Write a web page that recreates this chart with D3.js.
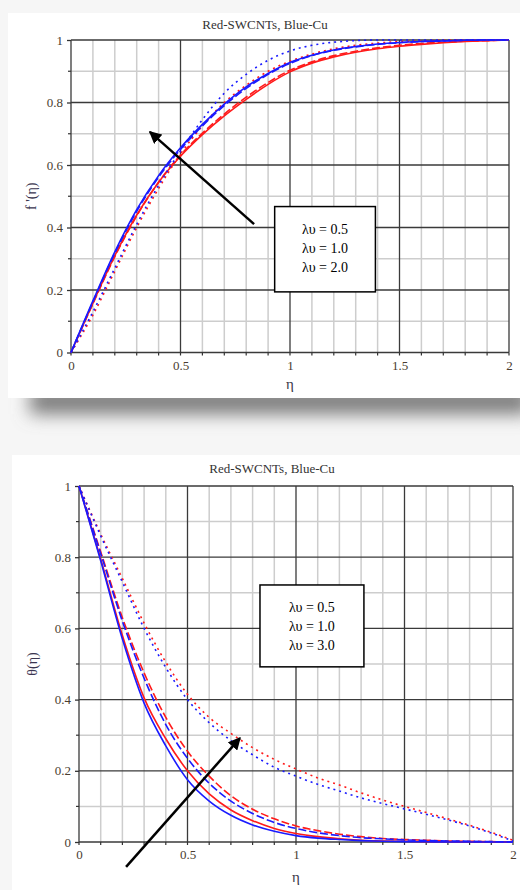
<!DOCTYPE html>
<html>
<head>
<meta charset="utf-8">
<script src="https://cdnjs.cloudflare.com/ajax/libs/d3/7.8.5/d3.min.js"></script>
<style>
  html, body { margin: 0; padding: 0; background: #f6f6f6; }
  svg { display: block; }
</style>
</head>
<body>
<svg id="chart" width="520" height="890"></svg>
<script>
// ---------- DATA ----------
const eta = [0, 0.1, 0.2, 0.3, 0.4, 0.5, 0.6, 0.7, 0.8, 0.9, 1.0, 1.1, 1.2, 1.3, 1.4, 1.5, 1.6, 1.7, 1.8, 1.9, 2.0];

// Top chart: f'(eta)
const fBlueSolid = [0, 0.165, 0.322, 0.457, 0.566, 0.655, 0.73, 0.795, 0.85, 0.893, 0.928, 0.951, 0.968, 0.979, 0.987, 0.992, 0.995, 0.997, 0.999, 1, 1];
const fBlueDash  = [0, 0.162, 0.318, 0.452, 0.561, 0.65, 0.725, 0.79, 0.845, 0.89, 0.925, 0.95, 0.967, 0.978, 0.986, 0.991, 0.995, 0.997, 0.999, 1, 1];
const fBlueDot   = [0, 0.13, 0.27, 0.41, 0.535, 0.645, 0.745, 0.83, 0.89, 0.935, 0.965, 0.983, 0.993, 0.998, 1, 1, 1, 1, 1, 1, 1];
const fRedSolid  = [0, 0.158, 0.31, 0.44, 0.545, 0.628, 0.697, 0.757, 0.81, 0.858, 0.898, 0.926, 0.946, 0.961, 0.972, 0.98, 0.986, 0.991, 0.995, 0.998, 1];
const fRedDash   = [0, 0.156, 0.307, 0.437, 0.545, 0.632, 0.702, 0.763, 0.817, 0.864, 0.903, 0.93, 0.95, 0.964, 0.975, 0.983, 0.989, 0.993, 0.996, 0.998, 1];
const fRedDot    = [0, 0.12, 0.26, 0.40, 0.525, 0.635, 0.725, 0.80, 0.855, 0.9, 0.932, 0.955, 0.972, 0.983, 0.99, 0.995, 0.997, 0.999, 1, 1, 1];

// Bottom chart: theta(eta)
const tBlueSolid = [1, 0.79, 0.57, 0.39, 0.27, 0.175, 0.115, 0.075, 0.048, 0.03, 0.018, 0.011, 0.007, 0.004, 0.002, 0.001, 0.0005, 0, 0, 0, 0];
const tRedSolid  = [1, 0.795, 0.58, 0.405, 0.29, 0.2, 0.135, 0.09, 0.06, 0.038, 0.024, 0.015, 0.009, 0.005, 0.003, 0.002, 0.001, 0.0005, 0, 0, 0];
const tBlueDash  = [1, 0.81, 0.62, 0.46, 0.33, 0.235, 0.165, 0.115, 0.08, 0.055, 0.038, 0.026, 0.018, 0.012, 0.009, 0.006, 0.004, 0.003, 0.002, 0.001, 0];
const tRedDash   = [1, 0.815, 0.63, 0.475, 0.35, 0.255, 0.185, 0.13, 0.092, 0.065, 0.045, 0.032, 0.022, 0.015, 0.01, 0.007, 0.005, 0.003, 0.002, 0.001, 0];
const tBlueDot   = [1, 0.86, 0.73, 0.6, 0.49, 0.40, 0.335, 0.285, 0.245, 0.21, 0.185, 0.162, 0.143, 0.124, 0.108, 0.093, 0.078, 0.062, 0.045, 0.025, 0.003];
const tRedDot    = [1, 0.865, 0.74, 0.615, 0.505, 0.415, 0.35, 0.305, 0.265, 0.232, 0.205, 0.18, 0.16, 0.138, 0.118, 0.1, 0.083, 0.065, 0.047, 0.027, 0.005];

const xTicks = [0, 0.5, 1, 1.5, 2];
const yTicks = [0, 0.2, 0.4, 0.6, 0.8, 1];
const title = "Red-SWCNTs, Blue-Cu";
const legendTop = ["λυ = 0.5", "λυ = 1.0", "λυ = 2.0"];
const legendBottom = ["λυ = 0.5", "λυ = 1.0", "λυ = 3.0"];

// ---------- DRAW ----------
const svg = d3.select("#chart");
const defs = svg.append("defs");
defs.append("filter").attr("id", "blur").attr("x", "-20%").attr("y", "-200%").attr("width", "140%").attr("height", "500%")
  .append("feGaussianBlur").attr("stdDeviation", 9);
defs.append("marker").attr("id", "arrow").attr("viewBox", "0 0 10 10")
  .attr("refX", 9).attr("refY", 5).attr("markerWidth", 5).attr("markerHeight", 5)
  .attr("orient", "auto-start-reverse").attr("markerUnits", "strokeWidth")
  .append("path").attr("d", "M0,0 L10,5 L0,10 Z").attr("fill", "#000");

// shadow under top panel
svg.append("rect").attr("x", 30).attr("y", 388).attr("width", 500).attr("height", 26)
  .attr("fill", "#7a7a7a").attr("filter", "url(#blur)");
// panels
svg.append("rect").attr("x", 8).attr("y", 13).attr("width", 512).attr("height", 385).attr("fill", "#fff");
svg.append("rect").attr("x", 12).attr("y", 455).attr("width", 508).attr("height", 435).attr("fill", "#fff");

const serif = "'Liberation Serif', 'Times New Roman', serif";

function drawChart(cfg) {
  const x = d3.scaleLinear().domain([0, 2]).range([cfg.x0, cfg.x1]);
  const y = d3.scaleLinear().domain([0, 1]).range([cfg.y0, cfg.y1]);
  const g = svg.append("g");

  // minor grid
  const minor = d3.range(1, 20).map(i => i / 10).filter(v => Math.abs(v * 2 - Math.round(v * 2)) > 1e-6);
  g.selectAll(".vmin").data(minor).join("line")
    .attr("x1", d => x(d)).attr("x2", d => x(d)).attr("y1", y(0)).attr("y2", y(1))
    .attr("stroke", "#cdcdcd").attr("stroke-width", 1.5);
  const minorY = d3.range(1, 10, 2).map(i => i / 10);
  g.selectAll(".hmin").data(minorY).join("line")
    .attr("x1", x(0)).attr("x2", x(2)).attr("y1", d => y(d)).attr("y2", d => y(d))
    .attr("stroke", "#cdcdcd").attr("stroke-width", 1.5);
  // major grid
  g.selectAll(".vmaj").data(xTicks).join("line")
    .attr("x1", d => x(d)).attr("x2", d => x(d)).attr("y1", y(0)).attr("y2", y(1))
    .attr("stroke", "#3a3a3a").attr("stroke-width", 1.3);
  g.selectAll(".hmaj").data(yTicks).join("line")
    .attr("x1", x(0)).attr("x2", x(2)).attr("y1", d => y(d)).attr("y2", d => y(d))
    .attr("stroke", "#3a3a3a").attr("stroke-width", 1.3);

  // axes
  const xAxis = d3.axisBottom(x).tickValues(xTicks).tickFormat(d3.format("~g")).tickSize(0).tickPadding(8);
  const gx = g.append("g").attr("transform", `translate(0,${y(0)})`).call(xAxis);
  gx.select(".domain").remove();
  gx.selectAll("text").attr("font-family", serif).attr("font-size", 13).attr("fill", "#4a3d30");
  const yAxis = d3.axisLeft(y).tickValues(yTicks).tickFormat(d3.format("~g")).tickSize(4).tickPadding(4);
  const gy = g.append("g").attr("transform", `translate(${x(0)},0)`).call(yAxis);
  gy.select(".domain").remove();
  gy.selectAll("line").attr("stroke", "#333").attr("stroke-width", 1.3);
  gy.selectAll("text").attr("font-family", serif).attr("font-size", 13).attr("fill", "#4a3d30");
  // minor ticks
  g.selectAll(".ymt").data(minorY).join("line")
    .attr("x1", x(0) - 3).attr("x2", x(0)).attr("y1", d => y(d)).attr("y2", d => y(d))
    .attr("stroke", "#333").attr("stroke-width", 1.2);
  g.selectAll(".xmt").data(d3.range(0, 21).map(i => i / 10)).join("line")
    .attr("x1", d => x(d)).attr("x2", d => x(d)).attr("y1", y(0)).attr("y2", y(0) + 3)
    .attr("stroke", "#333").attr("stroke-width", 1.2);

  // title & labels
  g.append("text").attr("x", cfg.titleX).attr("y", cfg.titleY).attr("text-anchor", "middle")
    .attr("font-family", serif).attr("font-size", 13).attr("fill", "#333").text(title);
  g.append("text").attr("x", (x(0) + x(2)) / 2).attr("y", cfg.xlabY).attr("text-anchor", "middle")
    .attr("font-family", serif).attr("font-size", 15).attr("fill", "#3a3a4a").text("η");
  g.append("text").attr("transform", `translate(${cfg.ylabX},${(y(0) + y(1)) / 2}) rotate(-90)`)
    .attr("text-anchor", "middle").attr("font-family", serif).attr("font-size", 14).attr("fill", "#3a3550").text(cfg.ylab);

  // curves
  const line = d3.line().x((d, i) => x(eta[i])).y(d => y(d)).curve(d3.curveMonotoneX);
  const styles = { solid: null, dash: "8,3", dot: "2,4" };
  cfg.series.forEach(s => {
    g.append("path").attr("d", line(s.v)).attr("fill", "none")
      .attr("stroke", s.c).attr("stroke-width", 1.6)
      .attr("stroke-dasharray", styles[s.s]);
  });

  // arrow
  g.append("line").attr("x1", x(cfg.arrow[0])).attr("y1", y(cfg.arrow[1]))
    .attr("x2", x(cfg.arrow[2])).attr("y2", y(cfg.arrow[3]))
    .attr("stroke", "#000").attr("stroke-width", 2.5).attr("marker-end", "url(#arrow)");

  // legend box
  const [lx0, ly0, lx1, ly1] = cfg.legendBox;
  g.append("rect").attr("x", x(lx0)).attr("y", y(ly0)).attr("width", x(lx1) - x(lx0)).attr("height", y(ly1) - y(ly0))
    .attr("fill", "#fff").attr("stroke", "#000").attr("stroke-width", 1.5);
  cfg.legend.forEach((t, i) => {
    g.append("text").attr("x", (x(lx0) + x(lx1)) / 2).attr("y", y(ly0) + cfg.legendFirst + i * cfg.legendStep)
      .attr("text-anchor", "middle").attr("font-family", serif).attr("font-size", 14).attr("fill", "#000").text(t);
  });
}

drawChart({
  x0: 71, x1: 509, y0: 352.5, y1: 40,
  titleX: 265, titleY: 29, xlabY: 389, ylabX: 36, ylab: "f '(η)",
  series: [
    { v: fRedSolid, c: "#ff1a1a", s: "solid" }, { v: fRedDash, c: "#ff1a1a", s: "dash" }, { v: fRedDot, c: "#ff1a1a", s: "dot" },
    { v: fBlueSolid, c: "#1a1aff", s: "solid" }, { v: fBlueDash, c: "#1a1aff", s: "dash" }, { v: fBlueDot, c: "#1a1aff", s: "dot" }
  ],
  arrow: [0.836, 0.411, 0.36, 0.706],
  legendBox: [0.93, 0.467, 1.39, 0.194],
  legend: legendTop, legendFirst: 27, legendStep: 19
});

drawChart({
  x0: 79, x1: 513, y0: 842, y1: 486,
  titleX: 272, titleY: 473, xlabY: 882, ylabX: 37, ylab: "θ(η)",
  series: [
    { v: tRedSolid, c: "#ff1a1a", s: "solid" }, { v: tRedDash, c: "#ff1a1a", s: "dash" }, { v: tRedDot, c: "#ff1a1a", s: "dot" },
    { v: tBlueSolid, c: "#1a1aff", s: "solid" }, { v: tBlueDash, c: "#1a1aff", s: "dash" }, { v: tBlueDot, c: "#1a1aff", s: "dot" }
  ],
  arrow: [0.217, -0.07, 0.742, 0.292],
  legendBox: [0.834, 0.722, 1.313, 0.492],
  legend: legendBottom, legendFirst: 27, legendStep: 19
});
</script>
</body>
</html>
